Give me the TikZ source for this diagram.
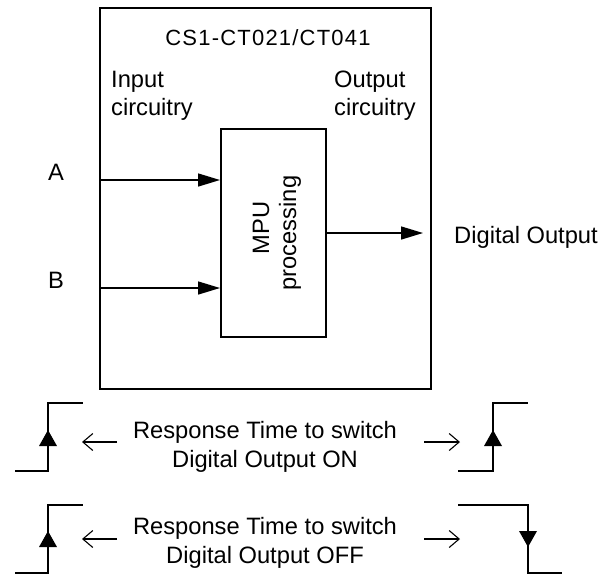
\documentclass[tikz,border=0pt]{standalone}
\usepackage{fontspec}
\setmainfont{Liberation Sans}
\newfontfamily\titlefont{Liberation Sans}[LetterSpace=5.5]
\usetikzlibrary{arrows.meta}
\begin{document}
\begin{tikzpicture}[x=1pt,y=-1pt,
  blk/.style={draw, line width=1.5pt, inner sep=0pt, anchor=north west},
  lbl/.style={font=\fontsize{23.7}{28}\selectfont, inner sep=0pt},
  ttl/.style={font=\titlefont\fontsize{22}{26}\selectfont, inner sep=0pt},
  arr/.style={line width=1.5pt, -{Triangle[length=22pt,width=13pt]}},
  oarr/.style={line width=1.1pt, -{Straight Barb[length=10pt,width=17pt]}},
  wave/.style={line width=1.5pt},
  tri/.style={fill=black}]
\useasboundingbox (0,0) rectangle (601,574);
% blocks
\node[blk, minimum width=331pt, minimum height=381pt] (outer) at (99,7) {};
\node[blk, minimum width=105pt, minimum height=208pt] (mpu) at (220,128) {};
% texts
\node[ttl, anchor=base] (title) at (268,45) {CS1-CT021/CT041};
\node[lbl, anchor=base west] (in1) at (111,87) {Input};
\node[lbl, anchor=base west] (in2) at (111,115) {circuitry};
\node[lbl, anchor=base west] (out1) at (334,87) {Output};
\node[lbl, anchor=base west] (out2) at (334,115) {circuitry};
\node[lbl, anchor=base] (la) at (56,180) {A};
\node[lbl, anchor=base] (lb) at (56,288) {B};
\node[lbl, anchor=base west] (dout) at (454,243) {Digital Output};
\node[lbl, anchor=base, rotate=90] (mpu1) at (269,228) {MPU};
\node[lbl, anchor=base, rotate=90] (mpu2) at (296,233) {processing};
% arrows
\coordinate (ca) at (100,180);
\coordinate (cb) at (100,288);
\coordinate (co) at (423,233);
\draw[arr] (ca) -- (mpu.west |- ca);
\draw[arr] (cb) -- (mpu.west |- cb);
\draw[arr] (mpu.east |- co) -- (co);
% response time texts
\node[lbl, anchor=base] (r1a) at (265,438) {Response Time to switch};
\node[lbl, anchor=base] (r1b) at (265,467) {Digital Output ON};
\node[lbl, anchor=base] (r2a) at (265,534) {Response Time to switch};
\node[lbl, anchor=base] (r2b) at (265,563) {Digital Output OFF};
\coordinate (l1s) at (117,442); \coordinate (l1e) at (82,442);
\coordinate (r1s) at (424,442); \coordinate (r1e) at (460,442);
\coordinate (l2s) at (117,539); \coordinate (l2e) at (82,539);
\coordinate (r2s) at (424,539); \coordinate (r2e) at (460,539);
\draw[oarr] (l1s) -- (l1e);
\draw[oarr] (r1s) -- (r1e);
\draw[oarr] (l2s) -- (l2e);
\draw[oarr] (r2s) -- (r2e);
% waveforms row 1
\draw[wave] (15,471) -- (48,471) -- (48,403) -- (83,403);
\fill[tri] (48,430) -- (39,446) -- (57,446) -- cycle;
\draw[wave] (458,471) -- (493,471) -- (493,403) -- (528,403);
\fill[tri] (493,430) -- (484,446) -- (502,446) -- cycle;
% waveforms row 2
\draw[wave] (15,573) -- (48,573) -- (48,505) -- (83,505);
\fill[tri] (48,531) -- (39,547) -- (57,547) -- cycle;
\draw[wave] (458,505) -- (528,505) -- (528,573) -- (562,573);
\fill[tri] (528,547) -- (519,531) -- (537,531) -- cycle;
\end{tikzpicture}
\end{document}
